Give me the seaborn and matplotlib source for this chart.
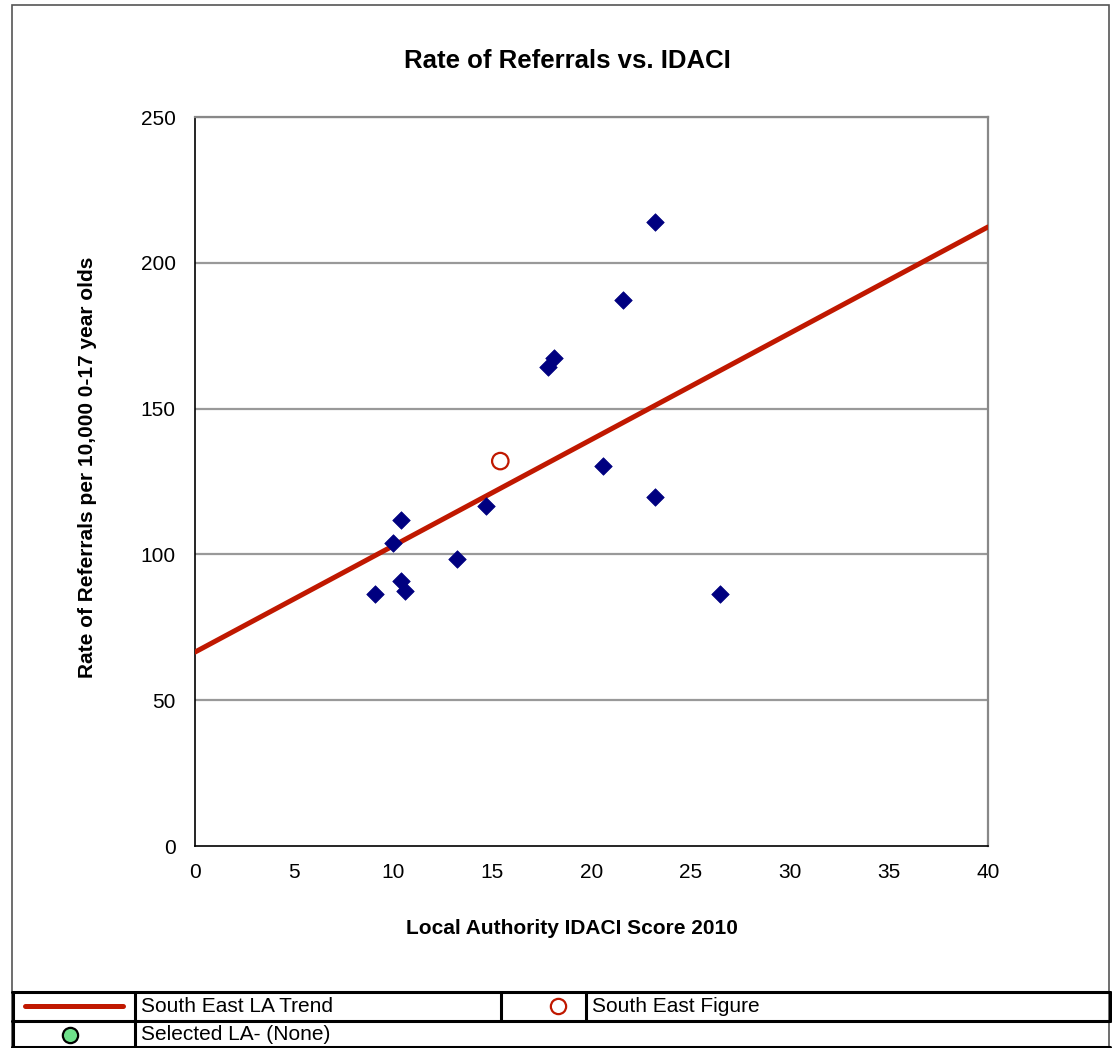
import matplotlib
matplotlib.use("Agg")
import matplotlib.pyplot as plt
import seaborn as sns
import pandas as pd
from matplotlib.lines import Line2D
from matplotlib.patches import Rectangle

# ---- data ----
la_idaci = [9.1, 10.0, 10.4, 10.4, 10.6, 13.2, 14.7, 17.8, 18.1, 20.6, 21.6, 23.2, 23.2, 26.5]
la_rate = [86.4, 103.9, 111.8, 90.9, 87.4, 98.4, 116.6, 164.3, 167.4, 130.3, 187.2, 214.0, 119.7, 86.4]
se_idaci = [15.4]
se_rate = [132.0]
trend_x = [0, 40]
trend_y = [66.5, 212.3]
x_ticks = [0, 5, 10, 15, 20, 25, 30, 35, 40]
y_ticks = [0, 50, 100, 150, 200, 250]

sns.set_style("white")
plt.rcParams['font.family'] = ['Liberation Sans', 'DejaVu Sans']
plt.rcParams['text.color'] = 'black'
plt.rcParams['axes.labelcolor'] = 'black'
plt.rcParams['xtick.color'] = 'black'
plt.rcParams['ytick.color'] = 'black'

W, H = 1112, 1048
fig = plt.figure(figsize=(W / 100, H / 100), dpi=100)

def fx(px):
    return px / W

def fy(py):
    return 1 - py / H

# outer frame
fig.patches.append(Rectangle((fx(12), fy(1047)), fx(1109) - fx(12), fy(5) - fy(1047),
                             transform=fig.transFigure, fill=False, edgecolor='#555555', lw=1.2))

ax = fig.add_axes([fx(195), fy(846), fx(988) - fx(195), fy(117) - fy(846)])

df_la = pd.DataFrame({"x": la_idaci, "y": la_rate})
df_se = pd.DataFrame({"x": se_idaci, "y": se_rate})
df_tr = pd.DataFrame({"x": trend_x, "y": trend_y})

for yv in y_ticks[1:]:
    ax.axhline(yv, color='#999999', lw=1.6, zorder=0)

sns.lineplot(data=df_tr, x="x", y="y", ax=ax, color='#C01800', lw=3.6, zorder=3)
sns.scatterplot(data=df_la, x="x", y="y", ax=ax, marker='D', s=80, color='#000080',
                edgecolor='#000080', linewidth=0.5, zorder=4)
sns.scatterplot(data=df_se, x="x", y="y", ax=ax, marker='o', s=140, facecolor='none',
                edgecolor='#C01800', linewidth=1.6, zorder=5)

ax.set_xlim(0, 40)
ax.set_ylim(0, 250)
ax.set_xticks(x_ticks)
ax.set_yticks(y_ticks)
ax.set_xticklabels([str(v) for v in x_ticks], fontsize=15)
ax.set_yticklabels([str(v) for v in y_ticks], fontsize=15)
ax.tick_params(axis='both', length=6, width=1, color='#000000', direction='out', pad=6)
ax.tick_params(axis='y', pad=8)
ax.set_xlabel("")
ax.set_ylabel("")
for side in ['left', 'bottom']:
    ax.spines[side].set_color('#000000')
    ax.spines[side].set_linewidth(1.2)
for side in ['top', 'right']:
    ax.spines[side].set_visible(True)
    ax.spines[side].set_color('#888888')
    ax.spines[side].set_linewidth(1.6)
ax.set_facecolor('white')

fig.text(fx(567), fy(61), "Rate of Referrals vs. IDACI", ha='center', va='center',
         fontsize=18.5, fontweight='bold')
fig.text(fx(572), fy(929), "Local Authority IDACI Score 2010", ha='center', va='center',
         fontsize=15, fontweight='bold')
fig.text(fx(88), fy(467), "Rate of Referrals per 10,000 0-17 year olds", ha='center', va='center',
         fontsize=15, fontweight='bold', rotation=90)

# ---- legend table ----
lw_t = 2.2
def hline(py, x0, x1):
    fig.lines.append(Line2D([fx(x0), fx(x1)], [fy(py), fy(py)], transform=fig.transFigure,
                            color='black', lw=lw_t))

def vline(px, y0, y1):
    fig.lines.append(Line2D([fx(px), fx(px)], [fy(y0), fy(y1)], transform=fig.transFigure,
                            color='black', lw=lw_t))

hline(992, 12, 1110)
hline(1021, 12, 1110)
hline(1047, 12, 1110)
vline(13, 992, 1048)
vline(1110, 992, 1021)
vline(135, 992, 1048)
vline(501, 992, 1021)
vline(586, 992, 1021)

fig.lines.append(Line2D([fx(25), fx(123)], [fy(1006), fy(1006)], transform=fig.transFigure,
                        color='#C01800', lw=3.6))
fig.lines.append(Line2D([fx(558)], [fy(1006)], transform=fig.transFigure, marker='o',
                        ms=11, mfc='none', mec='#C01800', mew=1.6, linestyle='none'))
fig.lines.append(Line2D([fx(70)], [fy(1035)], transform=fig.transFigure, marker='o',
                        ms=11, mfc='#6EE08A', mec='black', mew=1.6, linestyle='none'))
fig.text(fx(141), fy(1007), "South East LA Trend", ha='left', va='center', fontsize=15)
fig.text(fx(592), fy(1007), "South East Figure", ha='left', va='center', fontsize=15)
fig.text(fx(141), fy(1035), "Selected LA- (None)", ha='left', va='center', fontsize=15)

fig.savefig("out.png", dpi=100)
